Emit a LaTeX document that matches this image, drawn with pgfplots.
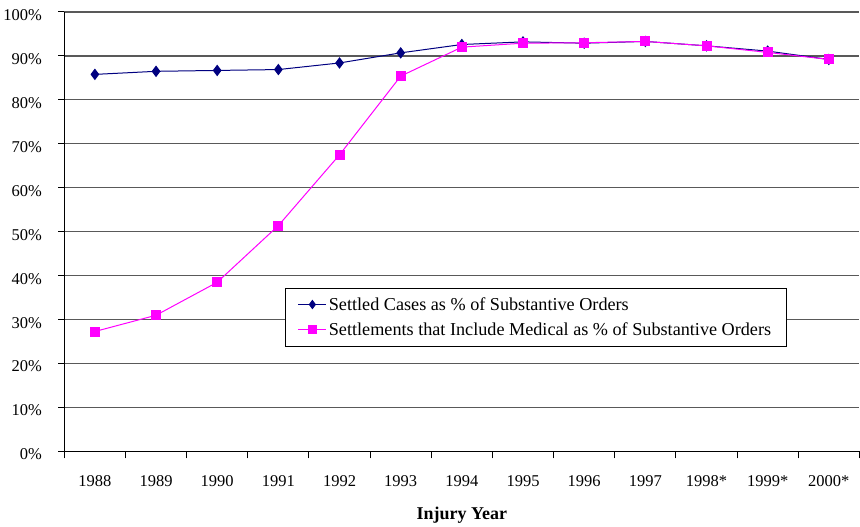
\documentclass[border=0pt]{standalone}
\usepackage{pgfplots}
\pgfplotsset{compat=1.18}
\usepackage{fontspec}
\setmainfont{Liberation Serif}
\definecolor{navy}{RGB}{0,0,128}
\definecolor{mag}{RGB}{255,0,255}
\begin{document}
\begin{tikzpicture}
\begin{axis}[
  name=main,
  scale only axis,
  width=796pt, height=440pt,
  xmin=-0.5, xmax=12.5,
  ymin=0, ymax=100,
  axis x line=bottom, axis y line=left,
  axis line style={-, black, line width=1pt},
  xtick={0,...,12},
  xticklabels={1988,1989,1990,1991,1992,1993,1994,1995,1996,1997,1998*,1999*,2000*},
  minor xtick={-0.5,0.5,...,12.5},
  major x tick style={draw=none},
  minor tick length=7pt,
  tick align=outside,
  ytick={0,10,...,100},
  major tick length=6pt,
  yticklabel={\pgfmathprintnumber{\tick}\%},
  /pgf/number format/assume math mode=true,
  ymajorgrids,
  grid style={black!65, line width=1.2pt},
  tick style={black, line width=1pt},
  ticklabel style={font=\fontsize{16.5}{19}\selectfont},
  yticklabel style={xshift=-13pt, yshift=-3pt},
  xticklabel style={yshift=-15pt},
  xlabel={\textbf{Injury Year}},
  xlabel style={font=\fontsize{18}{21}\selectfont, yshift=-13pt},
  legend style={at={(0.277,0.372)}, anchor=north west, draw=black, line width=0.8pt,
    font=\fontsize{18.2}{20}\selectfont, row sep=7pt, inner xsep=13pt, inner ysep=7pt},
  legend cell align=left,
  legend image code/.code={\draw[mark repeat=2,mark phase=2,mark size=4pt] plot coordinates {(0pt,0pt)(14pt,0pt)(28pt,0pt)};},
]
\addplot[navy, line width=1pt, mark=diamond*, mark size=5pt, mark options={fill=navy, draw=navy}]
 coordinates {(0,85.8)(1,86.5)(2,86.7)(3,86.9)(4,88.4)(5,90.7)(6,92.6)(7,93.2)(8,92.9)(9,93.3)(10,92.3)(11,91.1)(12,89.2)};
\addlegendentry{Settled Cases as \% of Substantive Orders}
\addplot[mag, line width=1pt, mark=square*, mark size=4.5pt, mark options={fill=mag, draw=mag}]
 coordinates {(0,27.3)(1,31.0)(2,38.5)(3,51.4)(4,67.5)(5,85.4)(6,92.0)(7,92.9)(8,93.0)(9,93.3)(10,92.3)(11,90.8)(12,89.2)};
\addlegendentry{Settlements that Include Medical as \% of Substantive Orders}
\end{axis}
\path (main.north) ++(0,12pt);
\end{tikzpicture}
\end{document}
